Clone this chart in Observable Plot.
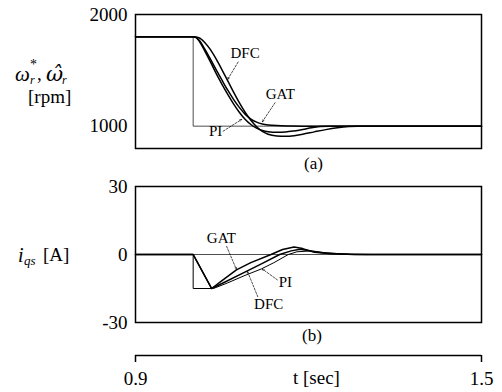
<!DOCTYPE html>
<html>
<head>
<meta charset="utf-8">
<script src="https://cdn.jsdelivr.net/npm/d3@7"></script>
<script src="https://cdn.jsdelivr.net/npm/@observablehq/plot@0.6"></script>
<style>
  body { margin: 0; background: #fff; }
  #wrap { position: relative; width: 502px; height: 392px; background: #fff; font-family: "Liberation Serif", "DejaVu Serif", "Times New Roman", serif; color: #000; }
  .abs { position: absolute; white-space: nowrap; line-height: 1; }
  .cap { font-size: 17px; }
</style>
</head>
<body>
<div id="wrap">
  <div id="pa" class="abs" style="left:0;top:0"></div>
  <div id="pb" class="abs" style="left:0;top:172px"></div>
  <div id="pc" class="abs" style="left:0;top:345px"></div>

  <div class="abs" style="left:15px;top:64px;font-size:21px;font-style:italic;">ω</div>
  <div class="abs" style="left:30px;top:58px;font-size:14px;line-height:14px;height:14px;">*</div>
  <div class="abs" style="left:30px;top:74px;font-size:12px;font-style:italic;">r</div>
  <div class="abs" style="left:37px;top:64px;font-size:19px;">,</div>
  <div class="abs" style="left:46px;top:64px;font-size:21px;font-style:italic;font-family:'DejaVu Serif',serif;">ω̂</div>
  <div class="abs" style="left:62px;top:74px;font-size:12px;font-style:italic;">r</div>
  <div class="abs" style="left:28px;top:87px;font-size:19px;">[rpm]</div>

  <div class="abs" style="left:18px;top:245px;font-size:20px;font-style:italic;">i</div>
  <div class="abs" style="left:24px;top:254px;font-size:13px;font-style:italic;">qs</div>
  <div class="abs" style="left:43px;top:245px;font-size:19px;">[A]</div>

  <div class="abs cap" style="left:304px;top:155px;">(a)</div>
  <div class="abs cap" style="left:302px;top:327px;">(b)</div>
  <div class="abs" style="left:293px;top:368px;font-size:19px;">t [sec]</div>
</div>
<script>
// ---- time axis ----
const tDomain = [0.9, 1.5];
const tTicks = [0.9, 1.5];

// ---- panel (a): speed [rpm] ----
const speedTicks = [1000, 2000];
const speedDomain = [800, 2000];

const refSpeedT = [0.9, 1.0, 1.0, 1.5];
const refSpeed  = [1800, 1800, 1000, 1000];

const piSpeedT = [0.9, 1.0, 1.005, 1.01, 1.02, 1.03, 1.04, 1.05, 1.06, 1.07, 1.08, 1.09, 1.10, 1.11, 1.12, 1.13, 1.145, 1.16, 1.175, 1.19, 1.205, 1.22, 1.235, 1.5];
const piSpeed  = [1800, 1800, 1792, 1765, 1675, 1575, 1470, 1375, 1285, 1200, 1125, 1062, 1015, 982, 962, 951, 946, 948, 957, 970, 985, 996, 1000, 1000];

const gatSpeedT = [0.9, 1.0, 1.005, 1.01, 1.02, 1.03, 1.04, 1.05, 1.06, 1.07, 1.08, 1.09, 1.10, 1.11, 1.12, 1.13, 1.145, 1.17, 1.2, 1.5];
const gatSpeed  = [1800, 1800, 1795, 1772, 1692, 1600, 1505, 1412, 1322, 1240, 1168, 1108, 1064, 1036, 1020, 1011, 1005, 1002, 1000, 1000];

const dfcSpeedT = [0.9, 1.0, 1.01, 1.02, 1.03, 1.04, 1.05, 1.06, 1.07, 1.08, 1.09, 1.10, 1.11, 1.12, 1.13, 1.145, 1.16, 1.175, 1.19, 1.21, 1.23, 1.25, 1.27, 1.285, 1.5];
const dfcSpeed  = [1800, 1800, 1792, 1750, 1685, 1600, 1505, 1405, 1305, 1210, 1125, 1053, 995, 953, 927, 912, 909, 915, 928, 949, 969, 985, 996, 1000, 1000];

// ---- panel (b): q-axis current [A] ----
const currentTicks = [-30, 0, 30];
const currentDomain = [-30, 30];
const refCurrent = [0];

const piCurT = [0.9, 1.0, 1.0, 1.035, 1.06, 1.09, 1.118, 1.14, 1.165, 1.18, 1.2, 1.23, 1.26, 1.31, 1.5];
const piCur  = [0, 0, -15, -15, -12.5, -9.2, -6.4, -3.6, 0, 1.2, 1.5, 0.8, 0.2, 0, 0];

const dfcCurT = [0.9, 1.0, 1.032, 1.05, 1.094, 1.12, 1.15, 1.17, 1.185, 1.205, 1.23, 1.27, 1.3, 1.5];
const dfcCur  = [0, 0, -15, -12.8, -7.2, -3.9, 0, 1.6, 2.3, 1.5, 0.6, 0.1, 0, 0];

const gatCurT = [0.9, 1.0, 1.032, 1.05, 1.075, 1.10, 1.135, 1.155, 1.175, 1.19, 1.21, 1.24, 1.28, 1.5];
const gatCur  = [0, 0, -15, -11.5, -6.8, -3.6, 0, 2.2, 3.3, 2.6, 1.0, 0.3, 0, 0];

// ---- annotation labels (in data units) ----
const speedLabels = ["DFC", "GAT", "PI"];
const speedLabelT = [1.090, 1.151, 1.039];
const speedLabelV = [1655, 1285, 955];
const speedArrowFromT = [1.078, 1.142, 1.052];
const speedArrowFromV = [1575, 1210, 955];
const speedArrowToT   = [1.060, 1.120, 1.084];
const speedArrowToV   = [1420, 1040, 1060];

const curLabels = ["GAT", "PI", "DFC"];
const curLabelT = [1.049, 1.160, 1.131];
const curLabelV = [7.2, -12.3, -22];
const curArrowFromT = [1.058, 1.146, 1.112];
const curArrowFromV = [3.6, -11.2, -18.6];
const curArrowToT   = [1.075, 1.120, 1.094];
const curArrowToV   = [-6.6, -6.4, -7.4];

const zip = (xs, ys) => xs.map((x, i) => ({x, y: ys[i]}));
const font = "Liberation Serif, DejaVu Serif, Times New Roman, serif";
const curveStyle = {x: "x", y: "y", stroke: "black", strokeWidth: 1.5};

function annot(labels, lt, lv, ft, fv, tt, tv) {
  const rows = labels.map((s, i) => ({s, lx: lt[i], ly: lv[i], x1: ft[i], y1: fv[i], x2: tt[i], y2: tv[i]}));
  return [
    Plot.text(rows, {x: "lx", y: "ly", text: "s", fontSize: 15, fontFamily: font, fill: "black"}),
    Plot.arrow(rows, {x1: "x1", y1: "y1", x2: "x2", y2: "y2", stroke: "black", strokeWidth: 0.7, strokeDasharray: "2,1.5", headLength: 4, headAngle: 50})
  ];
}

const pa = Plot.plot({
  width: 502, height: 160,
  marginTop: 14, marginBottom: 12, marginLeft: 135, marginRight: 21,
  x: {domain: tDomain, axis: null},
  y: {domain: speedDomain, axis: null},
  style: {fontFamily: font, background: "transparent", color: "black"},
  marks: [
    Plot.frame({stroke: "black", strokeWidth: 1.5}),
    Plot.axisY({ticks: speedTicks, tickSize: 0, tickPadding: 8, tickFormat: d => String(d), fontSize: 19, fontFamily: font, fill: "black", label: null}),
    Plot.line(zip(refSpeedT, refSpeed), {x: "x", y: "y", stroke: "#222", strokeWidth: 0.8}),
    Plot.line(zip(piSpeedT, piSpeed), {...curveStyle, curve: "monotone-x"}),
    Plot.line(zip(gatSpeedT, gatSpeed), {...curveStyle, curve: "monotone-x"}),
    Plot.line(zip(dfcSpeedT, dfcSpeed), {...curveStyle, curve: "monotone-x"}),
    ...annot(speedLabels, speedLabelT, speedLabelV, speedArrowFromT, speedArrowFromV, speedArrowToT, speedArrowToV)
  ]
});
document.getElementById("pa").appendChild(pa);

const pb = Plot.plot({
  width: 502, height: 160,
  marginTop: 14, marginBottom: 10, marginLeft: 135, marginRight: 21,
  x: {domain: tDomain, axis: null},
  y: {domain: currentDomain, axis: null},
  style: {fontFamily: font, background: "transparent", color: "black"},
  marks: [
    Plot.frame({stroke: "black", strokeWidth: 1.5}),
    Plot.axisY({ticks: currentTicks, tickSize: 0, tickPadding: 8, tickFormat: d => String(d), fontSize: 19, fontFamily: font, fill: "black", label: null}),
    Plot.ruleY(refCurrent, {stroke: "#222", strokeWidth: 0.8}),
    Plot.line(zip(piCurT, piCur), {x: "x", y: "y", stroke: "black", strokeWidth: 1.0}),
    Plot.line(zip(dfcCurT, dfcCur), curveStyle),
    Plot.line(zip(gatCurT, gatCur), curveStyle),
    ...annot(curLabels, curLabelT, curLabelV, curArrowFromT, curArrowFromV, curArrowToT, curArrowToV)
  ]
});
document.getElementById("pb").appendChild(pb);

const pc = Plot.plot({
  width: 502, height: 47,
  marginTop: 9, marginBottom: 37, marginLeft: 135, marginRight: 21,
  x: {domain: tDomain, axis: null},
  y: {domain: [0, 1], axis: null},
  style: {fontFamily: font, background: "transparent", color: "black"},
  marks: [
    Plot.ruleY([0], {stroke: "black", strokeWidth: 1.5}),
    Plot.axisX({ticks: tTicks, anchor: "bottom", tickSize: 7, tickPadding: 9, strokeWidth: 1.5, tickFormat: d => d.toFixed(1), fontSize: 19, fontFamily: font, fill: "black", label: null})
  ]
});
document.getElementById("pc").appendChild(pc);
</script>
</body>
</html>
